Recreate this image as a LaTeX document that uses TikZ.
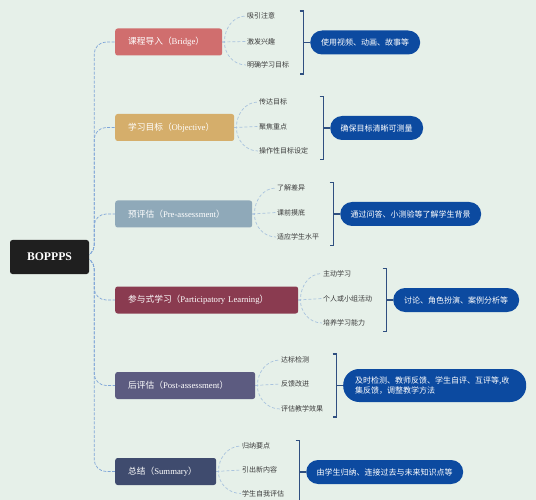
\documentclass[tikz,border=0pt]{standalone}
\usepackage{fontspec}
\setmainfont{Liberation Serif}
\newfontfamily\cjk{Noto Sans CJK SC}
\pgfdeclarelayer{bg}
\pgfdeclarelayer{lines}
\pgfsetlayers{bg,lines,main}
\definecolor{bgc}{HTML}{E6F0E9}
\definecolor{rootc}{HTML}{1F1F1F}
\definecolor{c1}{HTML}{D06E6E}
\definecolor{c2}{HTML}{D5AE6B}
\definecolor{c3}{HTML}{8FA9B9}
\definecolor{c4}{HTML}{8A3B50}
\definecolor{c5}{HTML}{5C5B80}
\definecolor{c6}{HTML}{3F4B6E}
\definecolor{pillc}{HTML}{0C4AA0}
\definecolor{brkc}{HTML}{2F4F80}
\definecolor{trunkc}{HTML}{7FA6D8}
\definecolor{subc}{HTML}{A9C3DE}
\definecolor{itemc}{HTML}{3A3A3A}
\newcommand{\brl}[2]{{\cjk #1（}#2{\cjk ）}}
\tikzset{
  rootbox/.style={rectangle, rounded corners=2.5pt, fill=rootc, text=white,
    font=\fontsize{11.7}{13}\selectfont\bfseries, minimum width=79pt, minimum height=34pt, inner sep=0pt},
  branch/.style={rectangle, rounded corners=2.5pt, text=white, font=\fontsize{8.7}{10}\selectfont,
    inner xsep=13pt, inner ysep=0pt, minimum height=27pt, align=left, anchor=west},
  item/.style={font=\cjk\fontsize{7}{8}\selectfont, text=itemc, inner sep=1pt, anchor=west},
  pill/.style={rectangle, rounded corners=12pt, fill=pillc, text=white, font=\cjk\fontsize{8}{10.5}\selectfont,
    minimum height=24pt, inner sep=0pt, anchor=west},
  trunk/.style={draw=trunkc, dashed, dash pattern=on 3pt off 1.5pt, line width=0.7pt, rounded corners=12pt},
  subln/.style={draw=subc, dash pattern=on 3pt off 2pt, line width=0.7pt},
  brk/.style={draw=brkc, line width=1.2pt}
}
\begin{document}
\begin{tikzpicture}[x=1pt,y=-1pt]
\begin{pgfonlayer}{bg}
\fill[bgc] (0,0) rectangle (536,500);
\end{pgfonlayer}
\useasboundingbox (0,0) rectangle (536,500);

\node[rootbox] (root) at (49.5,257) {BOPPPS};

\node[branch, fill=c1, text width=81pt] (b1) at (115,42) {\brl{课程导入}{Bridge}};
\node[branch, fill=c2, text width=93pt] (b2) at (115,127.5) {\brl{学习目标}{Objective}};
\node[branch, fill=c3, text width=111pt] (b3) at (115,214) {\brl{预评估}{Pre-assessment}};
\node[branch, fill=c4, text width=157pt] (b4) at (115,300) {\brl{参与式学习}{Participatory Learning}};
\node[branch, fill=c5, text width=114pt] (b5) at (115,385.5) {\brl{后评估}{Post-assessment}};
\node[branch, fill=c6, text width=75pt] (b6) at (115,471.5) {\brl{总结}{Summary}};

% items
\node[item] (s11) at (246,16) {吸引注意};
\node[item] (s12) at (246,41.5) {激发兴趣};
\node[item] (s13) at (246,65) {明确学习目标};
\node[item] (s21) at (258,102) {传达目标};
\node[item] (s22) at (258,126.5) {聚焦重点};
\node[item] (s23) at (258,151) {操作性目标设定};
\node[item] (s31) at (276,188) {了解差异};
\node[item] (s32) at (276,212.5) {课前摸底};
\node[item] (s33) at (276,237) {适应学生水平};
\node[item] (s41) at (322,273.5) {主动学习};
\node[item] (s42) at (322,298.5) {个人或小组活动};
\node[item] (s43) at (322,323) {培养学习能力};
\node[item] (s51) at (280,360) {达标检测};
\node[item] (s52) at (280,384) {反馈改进};
\node[item] (s53) at (280,409) {评估教学效果};
\node[item] (s61) at (241,446) {归纳要点};
\node[item] (s62) at (241,470) {引出新内容};
\node[item] (s63) at (241,493.5) {学生自我评估};

% pills
\node[pill, minimum width=110pt] (p1) at (310,42.5) {使用视频、动画、故事等};
\node[pill, minimum width=93pt] (p2) at (330,128) {确保目标清晰可测量};
\node[pill, minimum width=141pt] (p3) at (340,214) {通过问答、小测验等了解学生背景};
\node[pill, minimum width=126pt] (p4) at (393,300) {讨论、角色扮演、案例分析等};
\node[pill, minimum width=183pt, minimum height=33pt, rounded corners=16pt, text width=159pt, align=left] (p5) at (343,385.5) {及时检测、教师反馈、学生自评、互评等,收\\集反馈，调整教学方法};
\node[pill, minimum width=157pt] (p6) at (306,472) {由学生归纳、连接过去与未来知识点等};

\begin{pgfonlayer}{lines}
% trunk
\foreach \b in {b1,b2,b3,b4,b5,b6}{
  \draw[trunk] ([xshift=-16pt]root.east) -- ([xshift=5pt]root.east) |- (\b.west);
}
% sub connectors
\foreach \b/\i in {b1/1,b2/2,b3/3,b4/4,b5/5,b6/6}{
  \draw[subln] (\b.east) -- ++(2,0) to[out=90,in=180] (s\i1.west);
  \draw[subln] (\b.east) -- (s\i2.west);
  \draw[subln] (\b.east) -- ++(2,0) to[out=-90,in=180] (s\i3.west);
}
\end{pgfonlayer}

% brackets
\foreach \p in {p1,p2,p3,p4,p5,p6}{
  \draw[brk] ([xshift=-10.5pt,yshift=31.5pt]\p.west) -- ++(4pt,0pt) -- ++(0pt,-63pt) -- ++(-4pt,0pt);
  \draw[brk] ([xshift=-6.5pt]\p.west) -- (\p.west);
}
\end{tikzpicture}
\end{document}
